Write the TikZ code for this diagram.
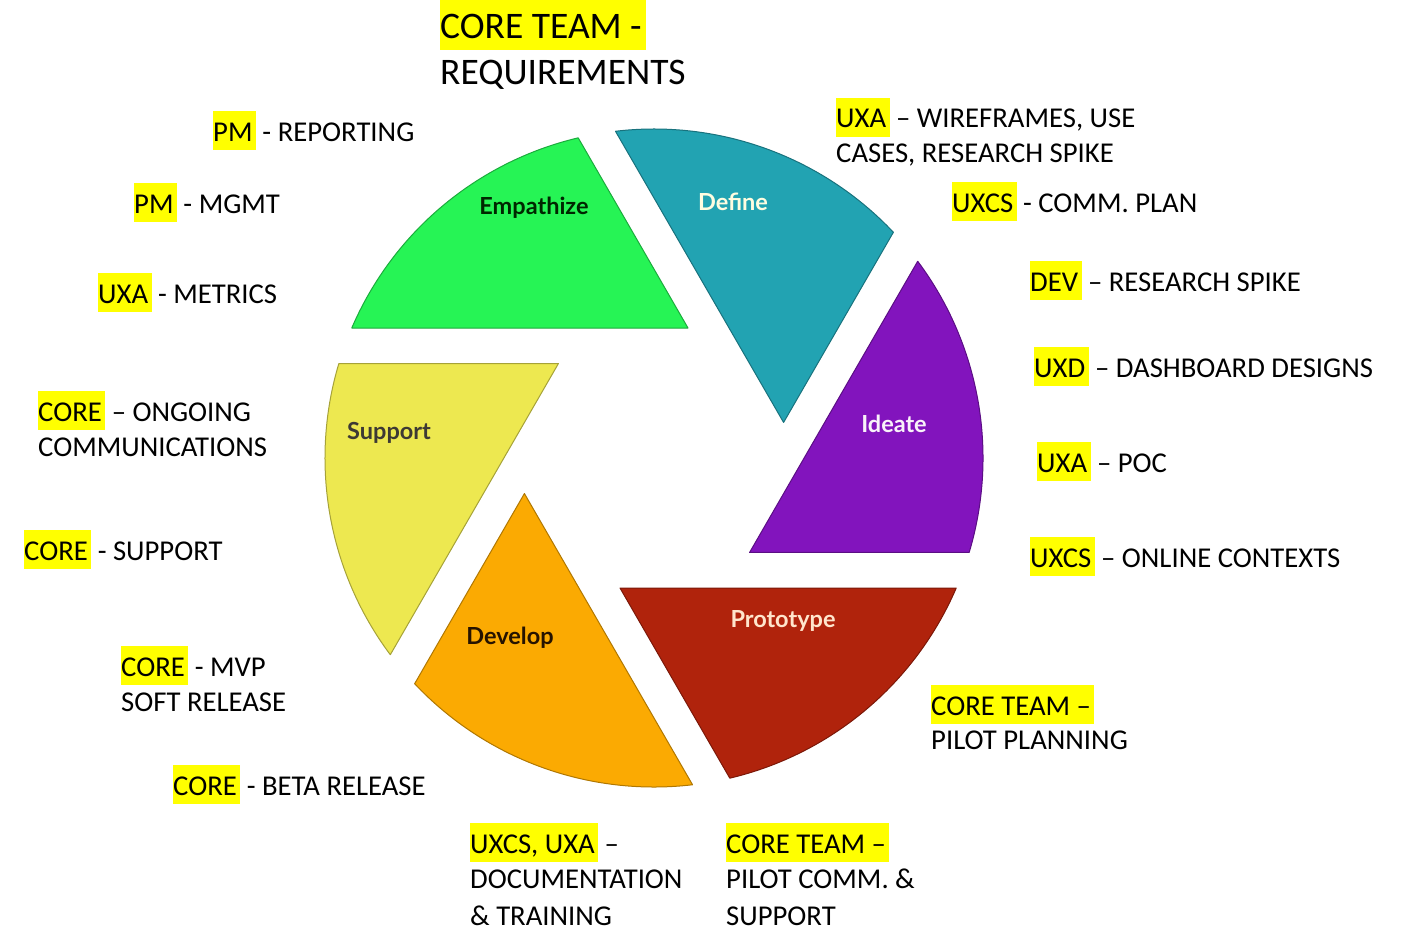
\documentclass[tikz,border=0pt]{standalone}
\usepackage{fontspec}
\setmainfont{Carlito}
\newfontfamily\bladefont{Lato}

\definecolor{hly}{HTML}{FFFF00}
\definecolor{cEmp}{HTML}{26F455}
\definecolor{cDef}{HTML}{22A3B2}
\definecolor{cIde}{HTML}{8214BD}
\definecolor{cPro}{HTML}{B0230C}
\definecolor{cDev}{HTML}{FBAA02}
\definecolor{cSup}{HTML}{EDE850}

% yellow text marker
\newcommand{\hlt}[1]{{\setlength{\fboxsep}{0pt}\colorbox{hly}{\rule[-0.3em]{0pt}{1.33em}#1\hspace{0.12em}}}}

\tikzset{
  lbl/.style={anchor=base west, inner sep=0pt, font=\fontsize{28.7}{34}\selectfont},
  ttl/.style={anchor=base west, inner sep=0pt, font=\fontsize{37.5}{45}\selectfont},
  blade/.style={fill=#1, draw=#1!70!black, line width=1pt, line join=round},
  bladetext/.style={inner sep=0pt, font=\fontsize{23.5}{28}\bladefont\bfseries}
}

\begin{document}
\begin{tikzpicture}[x=1pt, y=1pt]
\useasboundingbox (0,0) rectangle (1415,-931);

% six aperture blades around the centre, each a copy of the first turned by 60 degrees
\foreach \k/\c in {0/cEmp, 1/cDef, 2/cIde, 3/cPro, 4/cDev, 5/cSup}{
  \begin{scope}[shift={(654,-458)}, rotate=-60*\k]
    \path[blade=\c] (34,130) -- (-302.23,130)
      arc[start angle=156.73, end angle=103.32, radius=329] -- cycle;
  \end{scope}
}

% blade names
\node[bladetext, text=black!85!green] (tEmp) at (534,-208) {Empathize};
\node[bladetext, text=white!88!yellow] (tDef) at (733,-202) {Define};
\node[bladetext, text=white!95!violet] (tIde) at (894,-424) {Ideate};
\node[bladetext, text=white!80!orange] (tPro) at (783,-621) {Prototype};
\node[bladetext, text=black!85!orange] (tDev) at (510,-638) {Develop};
\node[bladetext, text=black!88!yellow] (tSup) at (389,-433) {Support};

% heading
\node[ttl] (h1) at (440,-39) {\hlt{CORE TEAM -}};
\node[ttl] (h2) at (440,-85) {REQUIREMENTS};

% left side
\node[lbl] (a1) at (213,-141) {\hlt{PM} - REPORTING};
\node[lbl] (a2) at (134,-213) {\hlt{PM} - MGMT};
\node[lbl] (a3) at (98,-303) {\hlt{UXA} - METRICS};
\node[lbl] (a4) at (38,-421) {\hlt{CORE} – ONGOING};
\node[lbl] (a4b) at (38,-456) {COMMUNICATIONS};
\node[lbl] (a5) at (24,-560) {\hlt{CORE} - SUPPORT};
\node[lbl] (a6) at (121,-676) {\hlt{CORE} - MVP};
\node[lbl] (a6b) at (121,-711) {SOFT RELEASE};
\node[lbl] (a7) at (173,-795) {\hlt{CORE} - BETA RELEASE};

% bottom
\node[lbl] (b1) at (470,-853) {\hlt{UXCS, UXA} –};
\node[lbl] (b1b) at (470,-888) {DOCUMENTATION};
\node[lbl] (b1c) at (470,-925) {\& TRAINING};
\node[lbl] (b2) at (726,-853) {\hlt{CORE TEAM –}};
\node[lbl] (b2b) at (726,-888) {PILOT COMM. \&};
\node[lbl] (b2c) at (726,-925) {SUPPORT};

% right side
\node[lbl] (c1) at (931,-715) {\hlt{CORE TEAM –}};
\node[lbl] (c1b) at (931,-749) {PILOT PLANNING};
\node[lbl] (c2) at (1030,-567) {\hlt{UXCS} – ONLINE CONTEXTS};
\node[lbl] (c3) at (1037,-472) {\hlt{UXA} – POC};
\node[lbl] (c4) at (1034,-377) {\hlt{UXD} – DASHBOARD DESIGNS};
\node[lbl] (c5) at (1030,-291) {\hlt{DEV} – RESEARCH SPIKE};
\node[lbl] (c6) at (952,-212) {\hlt{UXCS} - COMM. PLAN};
\node[lbl] (c7) at (836,-128) {\hlt{UXA} – WIREFRAMES, USE};
\node[lbl] (c7b) at (836,-162) {CASES, RESEARCH SPIKE};
\end{tikzpicture}
\end{document}
